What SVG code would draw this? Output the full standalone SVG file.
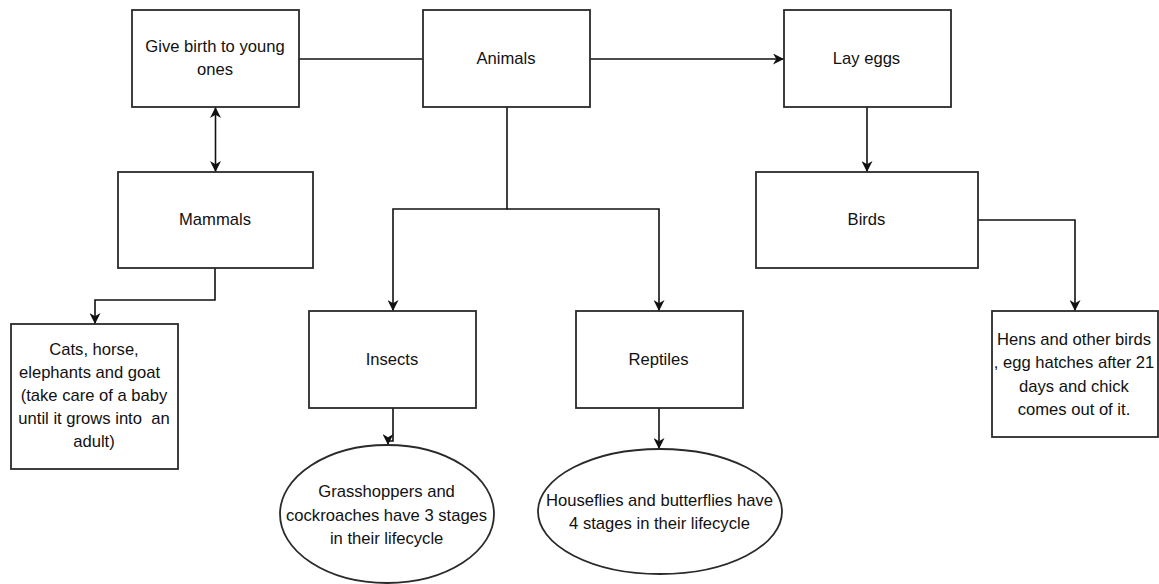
<svg xmlns="http://www.w3.org/2000/svg" width="1159" height="584" viewBox="0 0 1159 584">
<style>
.box{fill:#fff;stroke:#2a2a2a;stroke-width:1.8}
.ln{fill:none;stroke:#111;stroke-width:1.6}
.t{font-family:"Liberation Sans",Arial,sans-serif;font-size:16.6px;fill:#111;text-anchor:middle;white-space:pre}
</style>
<defs>
<marker id="arr" viewBox="0 0 10 10" refX="10" refY="5" markerUnits="userSpaceOnUse" markerWidth="12" markerHeight="11" orient="auto-start-reverse">
<path d="M0,0 L10,5 L0,10 L3,5 z" fill="#111"/>
</marker>
</defs>
<rect width="1159" height="584" fill="#fff"/>
<g id="connectors">
<path class="ln" d="M299,59 H423"/>
<path class="ln" d="M590,59 H784" marker-end="url(#arr)"/>
<path class="ln" d="M867,107 V172" marker-end="url(#arr)"/>
<path class="ln" d="M215.5,107 V172" marker-start="url(#arr)" marker-end="url(#arr)"/>
<path class="ln" d="M507,107 V209 H393 V311" marker-end="url(#arr)"/>
<path class="ln" d="M507,209 H659 V311" marker-end="url(#arr)"/>
<path class="ln" d="M215,268 V300 H95 V324" marker-end="url(#arr)"/>
<path class="ln" d="M393,408 V441 H388 V445" marker-end="url(#arr)"/>
<path class="ln" d="M659,408 V449" marker-end="url(#arr)"/>
<path class="ln" d="M978,220 H1075 V311" marker-end="url(#arr)"/>
</g>
<g id="give-birth">
<rect class="box" x="132" y="10" width="167" height="97"/>
<text class="t" x="215" y="51.5">Give birth to young</text>
<text class="t" x="215" y="74.5">ones</text>
</g>
<g id="animals">
<rect class="box" x="423" y="10" width="167" height="97"/>
<text class="t" x="506" y="63.5">Animals</text>
</g>
<g id="lay-eggs">
<rect class="box" x="784" y="10" width="167" height="97"/>
<text class="t" x="866.5" y="63.5">Lay eggs</text>
</g>
<g id="mammals">
<rect class="box" x="118" y="172" width="195" height="96"/>
<text class="t" x="215" y="225">Mammals</text>
</g>
<g id="birds">
<rect class="box" x="756" y="172" width="222" height="96"/>
<text class="t" x="866.5" y="225">Birds</text>
</g>
<g id="cats">
<rect class="box" x="11" y="324" width="167" height="145"/>
<text class="t" x="94" y="354.5">Cats, horse,</text>
<text class="t" x="89.6" y="377.7">elephants and goat</text>
<text class="t" x="94" y="400.9">(take care of a baby</text>
<text class="t" x="94" y="424.1">until it grows into  an</text>
<text class="t" x="94" y="447.3">adult)</text>
</g>
<g id="insects">
<rect class="box" x="309" y="311" width="167" height="97"/>
<text class="t" x="392" y="365">Insects</text>
</g>
<g id="reptiles">
<rect class="box" x="576" y="311" width="167" height="97"/>
<text class="t" x="658.5" y="365">Reptiles</text>
</g>
<g id="hens">
<rect class="box" x="992" y="311" width="166" height="126"/>
<text class="t" x="1074" y="345">Hens and other birds</text>
<text class="t" x="1074" y="368.3">, egg hatches after 21</text>
<text class="t" x="1074" y="391.6">days and chick</text>
<text class="t" x="1074" y="414.9">comes out of it.</text>
</g>
<g id="grasshoppers">
<ellipse class="box" cx="387" cy="514" rx="107" ry="69"/>
<text class="t" x="386.6" y="497.3">Grasshoppers and</text>
<text class="t" x="386.6" y="520.6">cockroaches have 3 stages</text>
<text class="t" x="386.6" y="543.9">in their lifecycle</text>
</g>
<g id="houseflies">
<ellipse class="box" cx="660" cy="511.5" rx="122" ry="62.5"/>
<text class="t" x="659.5" y="505.7">Houseflies and butterflies have</text>
<text class="t" x="659.5" y="529">4 stages in their lifecycle</text>
</g>
</svg>
